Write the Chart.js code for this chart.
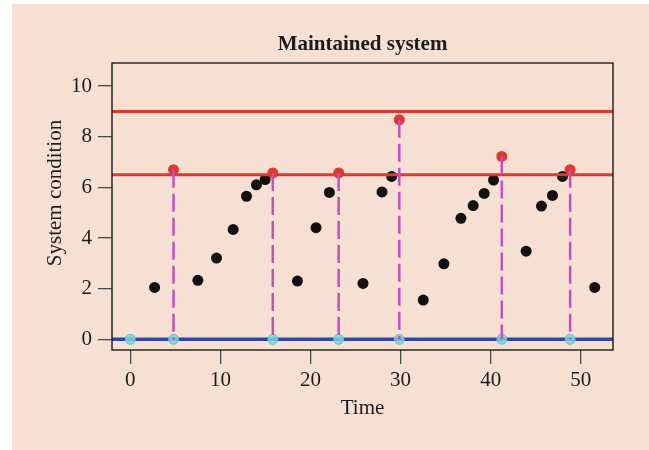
<!DOCTYPE html>
<html>
<head>
<meta charset="utf-8">
<script src="https://cdn.jsdelivr.net/npm/chart.js@4"></script>
<style>
    html, body { margin: 0; padding: 0; background: #ffffff; }
    #wrap { width: 649px; height: 450px; position: relative; }
</style>
</head>
<body>
<div id="wrap"><canvas id="conditionChart"></canvas></div>
<script>
/* =====================================
   DATA
===================================== */

// degradation readings between renewals
const wearTimes = [
    2.70, 7.50, 9.57, 11.42, 12.90, 14.00, 14.97,
    18.55, 20.62, 22.10,
    25.83, 27.94, 29.01,
    32.52, 34.81, 36.70, 38.06, 39.28, 40.32,
    43.94, 45.64, 46.86, 47.97,
    51.55
];
const wearValues = [
    2.05, 2.33, 3.21, 4.34, 5.65, 6.10, 6.31,
    2.30, 4.41, 5.80,
    2.21, 5.82, 6.43,
    1.55, 2.98, 4.78, 5.28, 5.76, 6.29,
    3.48, 5.26, 5.68, 6.43,
    2.05
];

// readings that crossed the maintenance threshold
const alarmTimes  = [4.80, 15.82, 23.13, 29.86, 41.24, 48.82];
const alarmValues = [6.70, 6.57, 6.57, 8.67, 7.22, 6.70];

// system renewed (back to zero)
const renewTimes = [0, 4.80, 15.82, 23.13, 29.86, 41.24, 48.82];

const thresholds = [6.5, 9];
const baseLevel  = 0;

const xTicks = [0, 10, 20, 30, 40, 50];
const yTicks = [0, 2, 4, 6, 8, 10];

const xMin = -2.03, xMax = 53.58;
const yMin = -0.42, yMax = 10.91;

const titleText  = "Maintained system";
const xTitleText = "Time";
const yTitleText = "System condition";

/* =====================================
   COLOURS
===================================== */

const PANEL   = "#f6e0d4";
const INK     = "#1c1c1c";
const RED     = "#e0382c";
const BLUE    = "#2f46a6";
const MAGENTA = "#c44fc4";
const CYAN    = "rgba(120,214,216,0.85)";

Chart.defaults.font.family = "'Liberation Serif', 'Times New Roman', serif";
Chart.defaults.color = INK;

/* =====================================
   PLUGINS
===================================== */

const panelBackground = {
    id: "panelBackground",
    beforeDraw(chart) {
        const ctx = chart.ctx;
        ctx.save();
        ctx.fillStyle = PANEL;
        ctx.fillRect(12, 4, chart.width - 12, chart.height - 4);
        ctx.restore();
    }
};

const frameAndLabel = {
    id: "frameAndLabel",
    afterDraw(chart) {
        const {ctx, chartArea: a} = chart;
        ctx.save();

        // box around the plotting region
        ctx.strokeStyle = INK;
        ctx.lineWidth = 1.4;
        ctx.strokeRect(a.left, a.top, a.right - a.left, a.bottom - a.top);

        // y axis title
        ctx.translate(61, 193);
        ctx.rotate(-Math.PI / 2);
        ctx.font = "21px 'Liberation Serif', serif";
        ctx.fillStyle = INK;
        ctx.textAlign = "center";
        ctx.textBaseline = "alphabetic";
        ctx.fillText(yTitleText, 0, 0);

        ctx.restore();
    }
};

/* =====================================
   DATASETS
===================================== */

const toPoints = (xs, ys) => xs.map((x, i) => ({x: x, y: ys[i]}));

const dropLines = alarmTimes.flatMap((x, i) => [
    {x: x, y: alarmValues[i]},
    {x: x, y: baseLevel},
    {x: x, y: NaN}
]);

const datasets = [

    {
        label: "Drop",
        data: dropLines,
        showLine: true,
        spanGaps: false,
        borderColor: MAGENTA,
        borderWidth: 2.5,
        borderDash: [18, 6],
        pointRadius: 0,
        order: 0
    },

    {
        label: "Renewal",
        data: renewTimes.map(x => ({x: x, y: baseLevel})),
        pointRadius: 5,
        pointBackgroundColor: CYAN,
        pointBorderColor: "rgba(95,190,200,0.9)",
        pointBorderWidth: 1,
        order: 1
    },

    {
        label: "Alarm",
        data: toPoints(alarmTimes, alarmValues),
        pointRadius: 5.5,
        pointBackgroundColor: RED,
        pointBorderWidth: 0,
        order: 2
    },

    {
        label: "Base",
        data: [{x: xMin, y: baseLevel}, {x: xMax, y: baseLevel}],
        showLine: true,
        borderColor: BLUE,
        borderWidth: 3.5,
        pointRadius: 0,
        order: 3
    },

    ...thresholds.map(t => ({
        label: "Threshold " + t,
        data: [{x: xMin, y: t}, {x: xMax, y: t}],
        showLine: true,
        borderColor: RED,
        borderWidth: 3,
        pointRadius: 0,
        order: 4
    })),

    {
        label: "Condition",
        data: toPoints(wearTimes, wearValues),
        pointRadius: 5.5,
        pointBackgroundColor: "#111111",
        pointBorderWidth: 0,
        order: 5
    }
];

/* =====================================
   CHART
===================================== */

const axisFont = {size: 21};

new Chart(document.getElementById("conditionChart"), {

    type: "scatter",

    data: {datasets: datasets},

    options: {

        responsive: true,
        maintainAspectRatio: false,
        animation: false,
        events: [],

        layout: {
            padding: {left: 0, right: 36, top: 0, bottom: 0}
        },

        plugins: {
            legend: {display: false},
            tooltip: {enabled: false},
            title: {
                display: true,
                text: titleText,
                fullSize: false,
                color: INK,
                font: {size: 21, weight: "bold"},
                padding: {top: 31.5, bottom: 6.3}
            }
        },

        scales: {

            x: {
                type: "linear",
                min: xMin,
                max: xMax,
                afterFit(scale) { scale.height = 100; },
                afterBuildTicks(scale) {
                    scale.ticks = xTicks.map(v => ({value: v}));
                },
                border: {display: false},
                grid: {
                    drawOnChartArea: false,
                    drawTicks: true,
                    tickLength: 14,
                    tickColor: "#4a4a4a",
                    lineWidth: 1.3
                },
                ticks: {
                    font: axisFont,
                    color: INK,
                    padding: 4,
                    maxRotation: 0,
                    callback: v => String(v)
                },
                title: {
                    display: true,
                    text: xTitleText,
                    color: INK,
                    font: {size: 21},
                    padding: {top: 0, bottom: 28.5}
                }
            },

            y: {
                type: "linear",
                min: yMin,
                max: yMax,
                afterFit(scale) { scale.width = 112; },
                afterBuildTicks(scale) {
                    scale.ticks = yTicks.map(v => ({value: v}));
                },
                border: {display: false},
                grid: {
                    drawOnChartArea: false,
                    drawTicks: true,
                    tickLength: 14,
                    tickColor: "#4a4a4a",
                    lineWidth: 1.3
                },
                ticks: {
                    font: axisFont,
                    color: INK,
                    padding: 6,
                    callback: v => String(v)
                }
            }
        }
    },

    plugins: [panelBackground, frameAndLabel]
});
</script>
</body>
</html>
